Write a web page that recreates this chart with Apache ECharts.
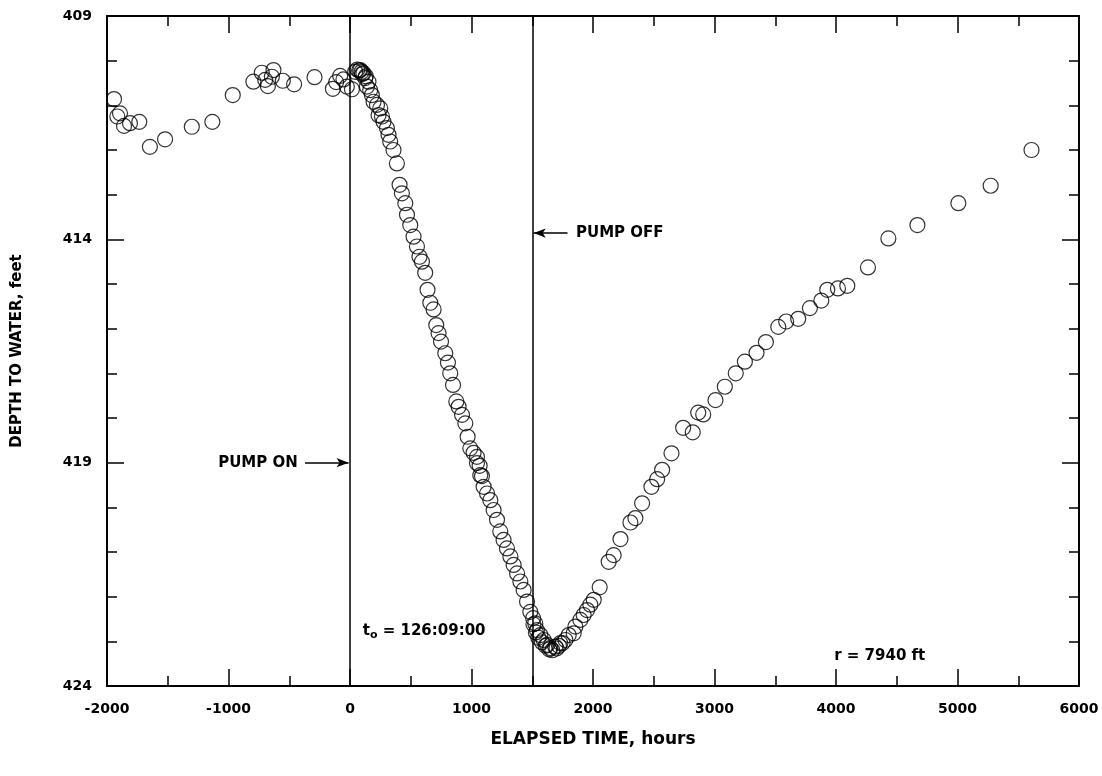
<!DOCTYPE html>
<html>
<head>
<meta charset="utf-8">
<script src="https://cdn.jsdelivr.net/npm/echarts@6/dist/echarts.min.js"></script>
<style>
html,body{margin:0;padding:0;background:#fff;}
#chart{width:1102px;height:776px;}
</style>
</head>
<body>
<div id="chart"></div>
<script>
// Elapsed time (hours) and depth to water (feet)
const elapsedHours = [
  -1942,-1893,-1915,-1860,-1811,-1734,-1647,-1522,-1302,-1133,-965,-795,-726,-630,-643,-676,-698,-553,-460,-292,-141,-81,-114,-26,-54,16,
  43,60,75,84,95,100,111,125,130,139,152,166,180,194,222,235,249,263,276,304,317,331,358,386,408,427,455,469,496,523,551,
  572,592,619,638,661,688,710,729,749,784,806,825,848,875,894,922,949,968,990,1017,1045,1067,1086,
  1045,1072,1100,1128,1155,1182,1210,1237,1264,1292,1320,1347,1375,1402,1429,1457,1484,1507,1525,1539,1567,1594,1622,1649,
  1510,1530,1550,1580,1610,1640,1665,1700,1720,1750,
  1690,1731,1773,1800,1841,1855,1896,1923,1951,1978,2006,2055,2129,2170,2226,2308,2349,2404,2481,2528,2569,2646,2742,2821,2866,2907,
  3008,3085,3175,3250,3346,3423,3525,3590,3689,3785,3879,3928,4016,4093,4263,4431,4670,5007,5273,5609
];
const depthFeet = [
  410.86,411.18,411.25,411.46,411.40,411.37,411.93,411.76,411.48,411.37,410.77,410.47,410.27,410.21,410.36,410.57,410.43,410.45,410.53,410.37,410.63,410.34,410.48,410.58,410.42,410.64,
  410.25,410.20,410.22,410.21,410.25,410.30,410.28,410.39,410.35,410.58,410.47,410.66,410.77,410.92,410.99,411.22,411.07,411.25,411.37,411.51,411.66,411.81,412.00,412.30,412.78,412.97,413.19,413.45,413.68,413.94,414.16,
  414.39,414.50,414.75,415.13,415.42,415.57,415.92,416.10,416.29,416.55,416.76,417.00,417.26,417.63,417.75,417.93,418.12,418.42,418.68,418.78,418.87,419.07,419.30,
  419.01,419.28,419.54,419.69,419.84,420.06,420.28,420.54,420.73,420.92,421.10,421.29,421.48,421.66,421.85,422.11,422.34,422.48,422.60,422.75,422.86,422.97,423.08,423.15,
  422.62,422.80,422.92,423.02,423.10,423.18,423.20,423.16,423.10,423.04,
  423.12,423.04,422.97,422.86,422.82,422.67,422.52,422.41,422.30,422.18,422.07,421.79,421.22,421.07,420.71,420.34,420.24,419.91,419.54,419.37,419.16,418.79,418.22,418.32,417.88,417.92,
  417.60,417.30,417.00,416.74,416.54,416.30,415.96,415.84,415.78,415.54,415.37,415.13,415.10,415.04,414.63,413.98,413.68,413.19,412.80,412.00
];
const xTickLabels = ['-2000','-1000','0','1000','2000','3000','4000','5000','6000'];
const yTickLabels = ['409','414','419','424'];
const pumpEvents = [0, 1500];           // PUMP ON, PUMP OFF (hours)
const xTitle = 'ELAPSED TIME, hours';
const yTitle = 'DEPTH TO WATER, feet';

const WIDE = '"DejaVu Sans", "Liberation Sans", sans-serif';
const points = elapsedHours.map((x, i) => [x, depthFeet[i]]);

const chart = echarts.init(document.getElementById('chart'), null, {renderer: 'canvas'});

const tickLen = 17, minorLen = 10;
const lbl = {fontFamily: WIDE, fontWeight: 'bold', fontSize: 14, color: '#000'};

const option = {
  animation: false,
  backgroundColor: '#fff',
  grid: {left: 107, right: 23, top: 16, bottom: 90, containLabel: false},
  xAxis: [{
    type: 'value', min: -2000, max: 6000, interval: 1000, position: 'bottom',
    axisLine: {show: true, onZero: false, lineStyle: {color: '#000', width: 2}},
    axisTick: {show: true, inside: true, length: tickLen, lineStyle: {color: '#000', width: 1.5}},
    minorTick: {show: true, splitNumber: 2, length: minorLen, lineStyle: {color: '#000', width: 1.5}},
    splitLine: {show: false},
    axisLabel: Object.assign({margin: 16, formatter: (v) => xTickLabels[Math.round((v + 2000) / 1000)] ?? ''}, lbl),
    name: xTitle, nameLocation: 'middle', nameGap: 45,
    nameTextStyle: {fontFamily: WIDE, fontWeight: 'bold', fontSize: 17, color: '#000'}
  }, {
    type: 'value', min: -2000, max: 6000, interval: 1000, position: 'top',
    axisLine: {show: true, onZero: false, lineStyle: {color: '#000', width: 2}},
    axisTick: {show: true, inside: true, length: tickLen, lineStyle: {color: '#000', width: 1.5}},
    minorTick: {show: true, splitNumber: 2, length: minorLen, lineStyle: {color: '#000', width: 1.5}},
    splitLine: {show: false}, axisLabel: {show: false}
  }],
  yAxis: [{
    type: 'value', min: 409, max: 424, interval: 5, inverse: true, position: 'left',
    axisLine: {show: true, onZero: false, lineStyle: {color: '#000', width: 2}},
    axisTick: {show: true, inside: true, length: tickLen, lineStyle: {color: '#000', width: 1.5}},
    minorTick: {show: true, splitNumber: 5, length: minorLen, lineStyle: {color: '#000', width: 1.5}},
    splitLine: {show: false},
    axisLabel: Object.assign({margin: 15, formatter: (v) => yTickLabels[Math.round((v - 409) / 5)] ?? ''}, lbl),
    name: yTitle, nameLocation: 'middle', nameGap: 82, nameRotate: 90,
    nameTextStyle: {fontFamily: WIDE, fontWeight: 'bold', fontSize: 15, color: '#000'}
  }, {
    type: 'value', min: 409, max: 424, interval: 5, inverse: true, position: 'right',
    axisLine: {show: true, onZero: false, lineStyle: {color: '#000', width: 2}},
    axisTick: {show: true, inside: true, length: tickLen, lineStyle: {color: '#000', width: 1.5}},
    minorTick: {show: true, splitNumber: 5, length: minorLen, lineStyle: {color: '#000', width: 1.5}},
    splitLine: {show: false}, axisLabel: {show: false}
  }],
  series: [{
    type: 'scatter',
    data: points,
    symbol: 'circle',
    symbolSize: 15,
    itemStyle: {color: 'rgba(255,255,255,0)', borderColor: '#000', borderWidth: 1.2},
    markLine: {
      silent: true, animation: false,
      symbol: ['none', 'none'],
      label: {show: false},
      lineStyle: {color: '#000', width: 1.5, type: 'solid'},
      data: [
        {xAxis: pumpEvents[0]},
        {xAxis: pumpEvents[1]},
        [{coord: [-370, 419], symbol: 'none'}, {coord: [-12, 419], symbol: 'arrow', symbolSize: [7, 12]}],
        [{coord: [1790, 413.86], symbol: 'none'}, {coord: [1512, 413.86], symbol: 'arrow', symbolSize: [7, 12]}]
      ]
    }
  }]
};
chart.setOption(option);

// text annotations placed in data coordinates
const notes = [
  {x: -430, y: 419, text: 'PUMP ON', align: 'right'},
  {x: 1860, y: 413.86, text: 'PUMP OFF', align: 'left'},
  {x: 105, y: 422.77, text: '{t|t}{s|o}{t| = 126:09:00}', align: 'left'},
  {x: 3985, y: 423.33, text: 'r = 7940 ft', align: 'left'}
];
const graphics = notes.map(n => {
  const p = chart.convertToPixel({xAxisIndex: 0, yAxisIndex: 0}, [n.x, n.y]);
  return {
    type: 'text', x: p[0], y: p[1], silent: true,
    style: {
      text: n.text, fontFamily: WIDE, fontWeight: 'bold', fontSize: 15, fill: '#000',
      align: n.align, verticalAlign: 'middle',
      rich: {
        t: {fontFamily: WIDE, fontWeight: 'bold', fontSize: 15, fill: '#000'},
        s: {fontFamily: WIDE, fontWeight: 'bold', fontSize: 11, fill: '#000', padding: [9, 0, 0, 0]}
      }
    }
  };
});
chart.setOption({graphic: graphics});
</script>
</body>
</html>
